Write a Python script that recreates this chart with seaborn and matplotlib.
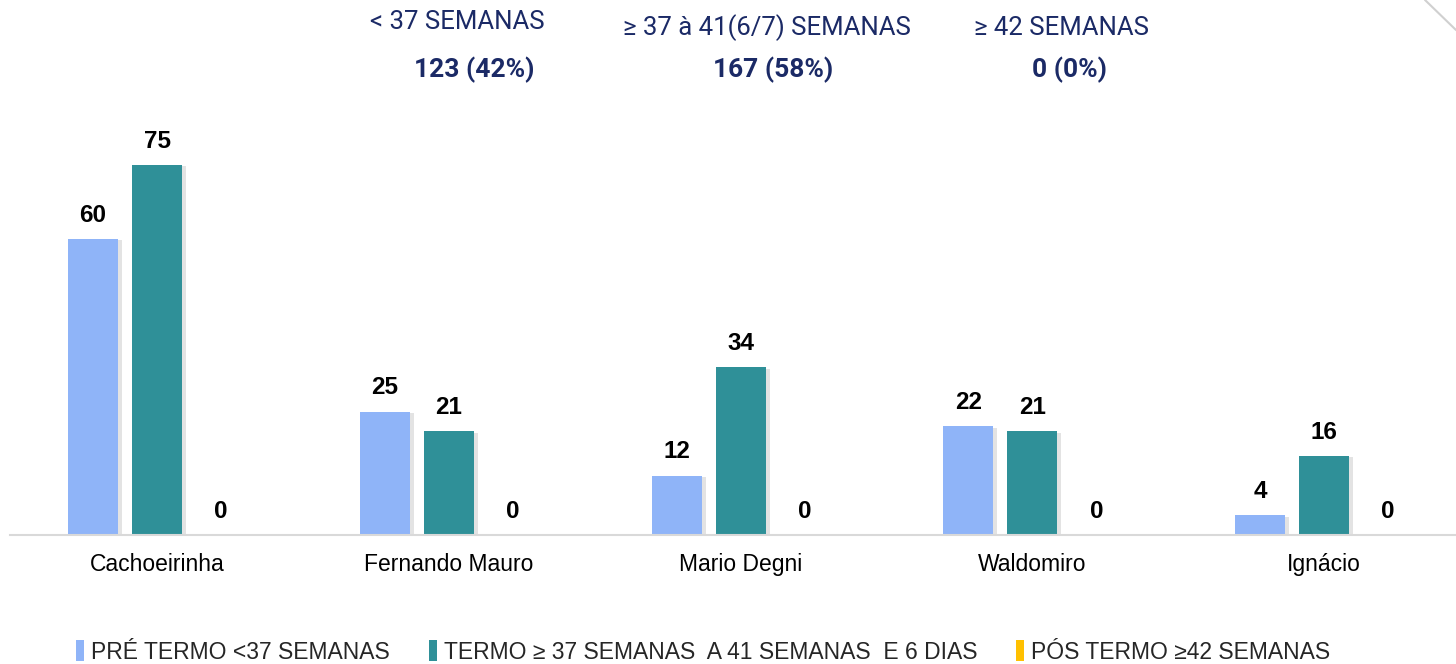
import seaborn as sns
import matplotlib.pyplot as plt
import matplotlib.patheffects as pe
import pandas as pd

# dados por unidade
unidades = ['Cachoeirinha', 'Fernando Mauro', 'Mario Degni', 'Waldomiro', 'Ignácio']
pre_termo = [60, 25, 12, 22, 4]
termo = [75, 21, 34, 21, 16]
pos_termo = [0, 0, 0, 0, 0]
grupos = ['PRÉ TERMO <37 SEMANAS', 'TERMO ≥ 37 SEMANAS  A 41 SEMANAS  E 6 DIAS', 'PÓS TERMO ≥42 SEMANAS']
cores = ['#8FB4F8', '#2F9098', '#FFC000']

# resumo do topo
resumo_titulos = ['< 37 SEMANAS', '≥ 37 à 41(6/7) SEMANAS', '≥ 42 SEMANAS']
resumo_valores = ['123 (42%)', '167 (58%)', '0 (0%)']

rows = []
for g, vals in zip(grupos, [pre_termo, termo, pos_termo]):
	for u, v in zip(unidades, vals):
		rows.append({'unidade': u, 'grupo': g, 'n': v})
df = pd.DataFrame(rows)

sns.set_style('white')
plt.rcParams['font.family'] = ['Liberation Sans', 'DejaVu Sans']

fig = plt.figure(figsize=(14.56, 6.64), dpi=100)
ax = fig.add_axes([10/1456, 1 - 535/664, 1 - 10/1456, 435/664])

sns.barplot(data=df, x='unidade', y='n', hue='grupo', palette=cores, width=0.658, gap=0.22,
	ax=ax, saturation=1, legend=True, linewidth=0)

shadow = [pe.SimplePatchShadow(offset=(3, -1), shadow_rgbFace='#909090', alpha=0.25), pe.Normal()]
for c in ax.containers:
	for p in c:
		if p.get_height() > 0:
			p.set_path_effects(shadow)
	ax.bar_label(c, labels=[f'{int(v)}' for v in c.datavalues], padding=9,
		fontsize=17.5, fontweight='bold', color='black')

ax.set_xlim(-0.504, 4.452)
ax.set_ylim(0, 88.2)
ax.set_xlabel('')
ax.set_ylabel('')
ax.set_yticks([])
ax.tick_params(axis='x', length=0, labelsize=16.5, pad=13, colors='black')
for s in ['top', 'left', 'right']:
	ax.spines[s].set_visible(False)
ax.spines['bottom'].set_color('#D9D9D9')
ax.spines['bottom'].set_linewidth(1.5)

handles, labels = ax.get_legend_handles_labels()
ax.get_legend().remove()
fig.legend(handles, labels, loc='center', bbox_to_anchor=(703/1456, 1 - 652/664), ncol=3,
	frameon=False, fontsize=16.5, handlelength=0.35, handleheight=1.0, handletextpad=0.3,
	columnspacing=1.7, borderpad=0)

navy = '#1B2A66'
for x, y, t in zip([457, 767, 1061], [22, 28, 28], resumo_titulos):
	fig.text(x/1456, 1 - y/664, t, ha='center', va='center', fontsize=18.5, color=navy,
		family=['Roboto', 'DejaVu Sans'])
for x, t in zip([474, 773, 1069], resumo_valores):
	fig.text(x/1456, 1 - 70/664, t, ha='center', va='center', fontsize=19, color=navy,
		fontweight='bold', family=['Roboto', 'DejaVu Sans'])

# detalhe do slide no canto
fig.add_artist(plt.Line2D([1425/1456, 1], [1, 1 - 30/664], color='#D0D0D0', lw=1.5,
	transform=fig.transFigure))

plt.savefig('out.png', dpi=100)
